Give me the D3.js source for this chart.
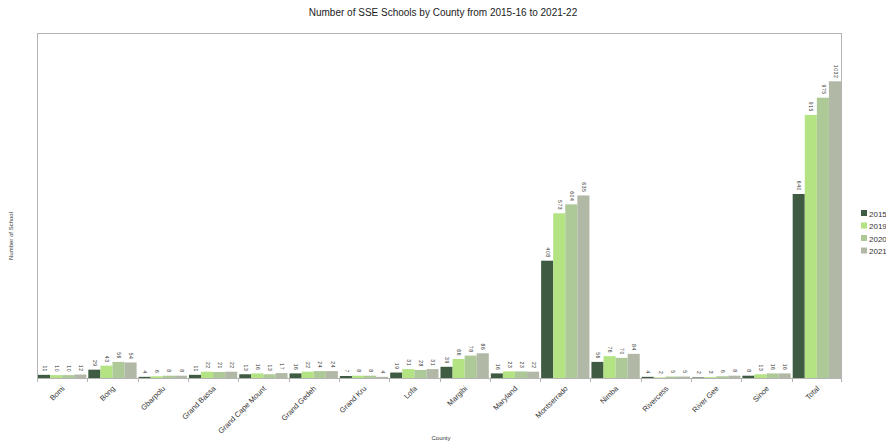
<!DOCTYPE html>
<html><head><meta charset="utf-8">
<script src="https://cdn.jsdelivr.net/npm/d3@7"></script>
<style>body{margin:0;background:#fff}svg{display:block;font-family:"Liberation Sans",Arial,sans-serif}</style>
</head><body><svg id="c" width="886" height="444"></svg>
<script>
const counties = ["Bomi","Bong","Gbarpolu","Grand Bassa","Grand Cape Mount","Grand Gedeh","Grand Kru","Lofa","Margibi","Maryland","Montserrado","Nimba","Rivercess","River Gee","Sinoe","Total"];
const years = ["2015","2019","2020","2021"];
const v2015 = [11,29,4,11,13,16,7,19,39,16,408,56,4,2,8,640];
const v2019 = [10,43,6,22,16,22,8,31,66,23,573,76,2,3,13,915];
const v2020 = [10,56,8,21,13,24,8,28,78,23,604,70,5,6,16,975];
const v2021 = [12,54,8,22,17,24,4,31,86,22,635,84,5,8,16,1032];
const colors = ["#3f5b41","#b3e383","#adc998","#b1b9a6"];
const series = [v2015,v2019,v2020,v2021];

const svg = d3.select("#c");
const m = {l:37, r:842, t:33, b:378};
const x = d3.scaleBand().domain(counties).range([m.l,m.r]).paddingInner(0).paddingOuter(0);
const xi = d3.scaleBand().domain(years).range([1, x.bandwidth()-1]).padding(0);
const y = d3.scaleLinear().domain([0,1200]).range([m.b,m.t]);

svg.append("text").attr("x",443).attr("y",16).attr("text-anchor","middle")
  .attr("font-size",10).attr("fill","#222").text("Number of SSE Schools by County from 2015-16 to 2021-22");

svg.append("rect").attr("x",m.l+0.5).attr("y",m.t+0.5).attr("width",m.r-m.l-1).attr("height",m.b-m.t)
  .attr("fill","none").attr("stroke","#b3b3b3").attr("stroke-width",1);

const g = svg.append("g");
counties.forEach((c,i)=>{
  series.forEach((s,j)=>{
    const bx = x(c)+xi(years[j]);
    g.append("rect").attr("x",bx).attr("y",y(s[i])).attr("width",xi.bandwidth())
      .attr("height",y(0)-y(s[i])).attr("fill",colors[j]);
    g.append("text").attr("transform",`translate(${bx+xi.bandwidth()/2},${y(s[i])-3}) rotate(90)`)
      .attr("text-anchor","end").attr("dominant-baseline","middle").attr("letter-spacing",0.6)
      .attr("font-size",5).attr("fill","#333").text(s[i]);
  });
});

// x axis
const ax = svg.append("g");
ax.append("line").attr("x1",m.l).attr("x2",m.r).attr("y1",m.b+0.5).attr("y2",m.b+0.5).attr("stroke","#b3b3b3");
counties.forEach((c,i)=>{
  const tx = Math.round(x(c))+0.5;
  ax.append("line").attr("x1",tx).attr("x2",tx).attr("y1",m.b).attr("y2",m.b+4).attr("stroke","#b3b3b3");
  ax.append("text").attr("transform",`translate(${x(c)+x.bandwidth()/2+3},${m.b+11}) rotate(-45)`)
    .attr("text-anchor","end").attr("font-size",7.5).attr("fill","#333").text(c);
});
ax.append("line").attr("x1",m.r-0.5).attr("x2",m.r-0.5).attr("y1",m.b).attr("y2",m.b+4).attr("stroke","#b3b3b3");

svg.append("text").attr("x",441).attr("y",440).attr("text-anchor","middle").attr("font-size",6).attr("fill","#333").text("County");
svg.append("text").attr("transform","translate(13,236) rotate(-90)").attr("text-anchor","middle").attr("font-size",6).attr("fill","#333").text("Number of School");

const lg = svg.append("g");
years.forEach((yr,j)=>{
  lg.append("rect").attr("x",861).attr("y",210+j*12.5).attr("width",6).attr("height",6).attr("fill",colors[j]);
  lg.append("text").attr("x",869).attr("y",216.5+j*12.5).attr("font-size",8).attr("fill","#333").text(yr);
});
</script></body></html>
